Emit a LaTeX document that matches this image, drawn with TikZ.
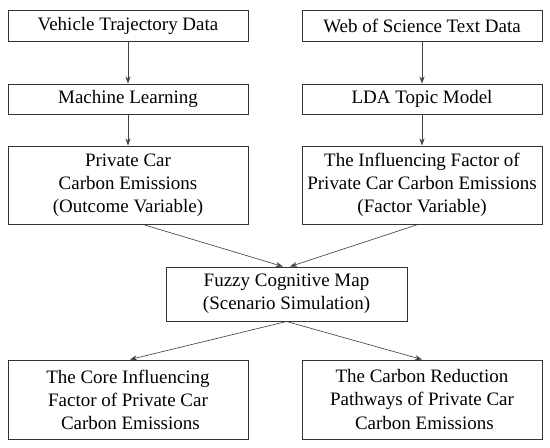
\documentclass[tikz,border=0pt]{standalone}
\usepackage{fontspec}
\setmainfont{Liberation Serif}
\usetikzlibrary{arrows.meta}
\tikzset{
  caixa/.style={draw=black!80,line width=0.7pt,inner sep=0pt,align=center,
    minimum width=6cm,font=\fontsize{13.5pt}{16.4pt}\selectfont},
  seta/.style={draw=black!75,line width=0.45pt,-{Stealth[length=5pt,width=3.6pt]}}
}
\begin{document}
\begin{tikzpicture}
\useasboundingbox (0,0) rectangle (13.75,-11.175);
%caixas coluna esquerda
  \node[caixa,minimum height=0.775cm] (traj) at (3.2,-0.6375) {Vehicle Trajectory Data};
  \node[caixa,minimum height=0.75cm] (ml) at (3.2,-2.475) {Machine Learning};
  \node[caixa,minimum height=1.95cm] (emis) at (3.2,-4.625) {Private Car\\Carbon Emissions\\(Outcome Variable)};
%caixas coluna direita
  \node[caixa,minimum height=0.775cm] (wos) at (10.55,-0.6375) {Web of Science Text Data};
  \node[caixa,minimum height=0.75cm] (lda) at (10.55,-2.475) {LDA Topic Model};
  \node[caixa,minimum height=1.95cm] (fator) at (10.55,-4.625) {The Influencing Factor of\\Private Car Carbon Emissions\\(Factor Variable)};
%mapa cognitivo
  \node[caixa,minimum width=6.025cm,minimum height=1.35cm] (fcm) at (7.1625,-7.35) {Fuzzy Cognitive Map\\(Scenario Simulation)};
%resultados
  \node[caixa,minimum height=1.975cm] (nucleo) at (3.2,-9.9875) {The Core Influencing\\Factor of Private Car\\\ Carbon Emissions};
  \node[caixa,minimum height=1.975cm] (reducao) at (10.55,-9.9875) {The Carbon Reduction\\Pathways of Private Car\\\ Carbon Emissions};
%setas
  \draw[seta] (traj) -- (ml);
  \draw[seta] (ml) -- (emis);
  \draw[seta] (wos) -- (lda);
  \draw[seta] (lda) -- (fator);
  \draw[seta] ([xshift=0.375cm]emis.south) -- ([xshift=-0.09cm]fcm.north);
  \draw[seta] ([xshift=-0.1cm]fator.south) -- ([xshift=0.09cm]fcm.north);
  \draw[seta] (fcm.south) -- ([xshift=0.05cm]nucleo.north);
  \draw[seta] (fcm.south) -- (reducao.north);
\end{tikzpicture}
\end{document}
